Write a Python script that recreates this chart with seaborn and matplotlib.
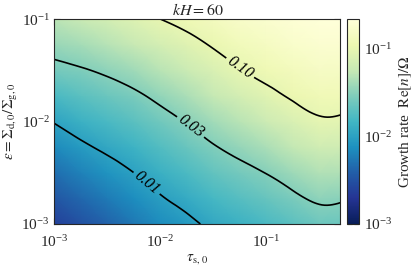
import numpy as np
import matplotlib
matplotlib.use("Agg")
import matplotlib.pyplot as plt
import matplotlib.tri as mtri
from matplotlib.colors import LogNorm
import seaborn as sns

# grid exponents (log10 tau_s,0 and log10 epsilon)
log_tau = [-3.0, -2.75, -2.5, -2.25, -2.0, -1.75, -1.5, -1.25, -1.0, -0.75, -0.5, -0.3]
log_eps = [-3.0, -2.75, -2.5, -2.25, -2.0, -1.75, -1.5, -1.25, -1.0]

# log10 of growth rate Re[n]/Omega, one row per epsilon
log_rate = [
    [-2.620, -2.500, -2.390, -2.270, -2.150, -2.055, -1.950, -1.870, -1.797, -1.708, -1.629, -1.641],
    [-2.470, -2.360, -2.250, -2.140, -2.020, -1.923, -1.813, -1.732, -1.657, -1.568, -1.487, -1.498],
    [-2.320, -2.214, -2.105, -2.000, -1.885, -1.785, -1.677, -1.595, -1.517, -1.420, -1.335, -1.345],
    [-2.160, -2.047, -1.950, -1.855, -1.747, -1.648, -1.540, -1.452, -1.365, -1.268, -1.183, -1.191],
    [-1.986, -1.879, -1.795, -1.710, -1.610, -1.511, -1.399, -1.305, -1.213, -1.116, -1.031, -1.037],
    [-1.789, -1.712, -1.641, -1.565, -1.467, -1.364, -1.259, -1.158, -1.061, -0.974, -0.916, -0.920],
    [-1.594, -1.543, -1.484, -1.406, -1.311, -1.217, -1.118, -1.011, -0.933, -0.870, -0.820, -0.824],
    [-1.437, -1.387, -1.322, -1.243, -1.155, -1.070, -0.980, -0.894, -0.832, -0.776, -0.734, -0.738],
    [-1.300, -1.230, -1.160, -1.080, -1.000, -0.935, -0.864, -0.794, -0.747, -0.700, -0.667, -0.671],
]

levels = [0.01, 0.03, 0.10]
level_labels = {0.01: "0.01", 0.03: "0.03", 0.10: "0.10"}
label_spots = [(7.4e-3, 2.5e-3), (1.9e-2, 8.7e-3), (5.6e-2, 3.3e-2)]

sns.set_style("ticks")
plt.rcParams["font.family"] = ["Liberation Serif", "DejaVu Serif"]
plt.rcParams["mathtext.fontset"] = "stix"

tau = 10 ** np.array(log_tau)
eps = 10 ** np.array(log_eps)
rate = 10 ** np.array(log_rate)

# smooth contour lines: matplotlib's cubic tri refiner on the coarse grid (log space)
gx, gy = np.meshgrid(log_tau, log_eps)
coarse = mtri.Triangulation(gx.ravel(), gy.ravel())
fine, fine_z = mtri.UniformTriRefiner(coarse).refine_field(np.array(log_rate).ravel(), subdiv=3)
tri = mtri.Triangulation(10 ** fine.x, 10 ** fine.y, fine.triangles)

fig = plt.figure(figsize=(4.16, 2.73), dpi=100)
ax = fig.add_axes([0.131, 0.1795, 0.6875, 0.7505])
cax = fig.add_axes([0.834, 0.1795, 0.029, 0.7505])

# scales first so the contour labels are fitted in screen space
ax.set_xscale("log")
ax.set_yscale("log")
ax.set_xlim(tau[0], tau[-1])
ax.set_ylim(eps[0], eps[-1])

cmap = sns.color_palette("YlGnBu_r", as_cmap=True)
norm = LogNorm(vmin=1e-3, vmax=rate.max())
pcm = ax.pcolormesh(tau, eps, rate, shading="gouraud", cmap=cmap, norm=norm)

cs = ax.tricontour(tri, 10 ** fine_z, levels=levels, colors="k", linewidths=1.2)
texts = ax.clabel(cs, fmt=level_labels, inline=True, inline_spacing=3,
                  fontsize=11.5, manual=label_spots)
for t in texts:
    t.set_fontstyle("italic")

ax.tick_params(which="both", direction="in", top=True, right=True, labelsize=11)
ax.tick_params(axis="x", which="major", pad=7)
ax.tick_params(which="major", length=4)
ax.tick_params(which="minor", length=2)
ax.set_title("$kH = 60$", fontsize=11.5, pad=3)
ax.set_xlabel(r"$\tau_{\rm s,\,0}$", fontsize=11, labelpad=2)
ax.set_ylabel(r"$\varepsilon = \Sigma_{\rm d,0}/\Sigma_{\rm g,0}$", fontsize=11)
ax.yaxis.set_label_coords(-0.122, 0.5)

cb = fig.colorbar(pcm, cax=cax)
cb.ax.tick_params(which="both", direction="in", left=True, labelsize=11)
cb.set_label(r"Growth rate  ${\rm Re}[n]/\mathit{\Omega}$", fontsize=11, labelpad=4)

plt.savefig("out.png", dpi=100)
